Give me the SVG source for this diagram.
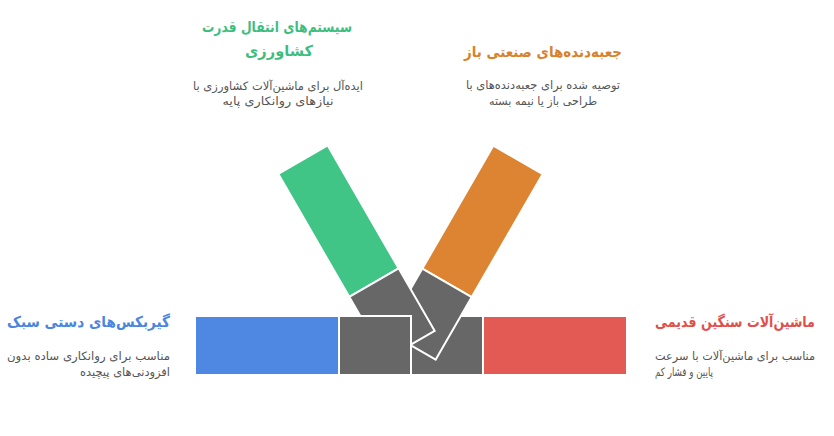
<svg xmlns="http://www.w3.org/2000/svg" width="834" height="436" viewBox="0 0 834 436">
<style>
text{font-family:"DejaVu Sans","Noto Sans",sans-serif;}
.t{font-size:15px;font-weight:bold;}
.b{font-size:11.5px;fill:#555555;}
.p{stroke:#ffffff;stroke-width:2;}
.gray{fill:#676767;}
</style>
<rect width="834" height="436" fill="#ffffff"/>
<g id="connectors">
<rect id="bar-gray-right" class="p gray" x="411" y="316" width="72" height="59"/>
</g>
<g id="node-orange">
<g transform="translate(493.3,145.7) rotate(30)">
<rect class="p" x="0" y="0" width="57" height="142" fill="#DC8431"/>
<rect class="p gray" x="0" y="142" width="57" height="72"/>
</g>
<text class="t" x="543" y="57" text-anchor="middle" fill="#D9822D" textLength="158" lengthAdjust="spacingAndGlyphs">جعبه‌دنده‌های صنعتی باز</text>
<text class="b" x="543" y="89" text-anchor="middle" textLength="154" lengthAdjust="spacingAndGlyphs">توصیه شده برای جعبه‌دنده‌های با</text>
<text class="b" x="543" y="105" text-anchor="middle" textLength="108" lengthAdjust="spacingAndGlyphs">طراحی باز یا نیمه بسته</text>
</g>
<g id="node-green">
<g transform="translate(278.3,174) rotate(-30)">
<rect class="p" x="0" y="0" width="57" height="142" fill="#40C586"/>
<rect class="p gray" x="0" y="142" width="57" height="72"/>
</g>
<text class="t" x="277" y="32" text-anchor="middle" fill="#3DBE80" textLength="150" lengthAdjust="spacingAndGlyphs">سیستم‌های انتقال قدرت</text>
<text class="t" x="279" y="56" text-anchor="middle" fill="#3DBE80" textLength="68" lengthAdjust="spacingAndGlyphs">کشاورزی</text>
<text class="b" x="278" y="90" text-anchor="middle" textLength="170" lengthAdjust="spacingAndGlyphs">ایده‌آل برای ماشین‌آلات کشاورزی با</text>
<text class="b" x="278" y="105" text-anchor="middle" textLength="111" lengthAdjust="spacingAndGlyphs">نیازهای روانکاری پایه</text>
</g>
<g id="node-blue">
<rect class="p" x="195" y="316" width="144" height="59" fill="#4E88E3"/>
<rect id="bar-gray-left" class="p gray" x="339" y="316" width="72" height="59"/>
<text class="t" x="170" y="327" text-anchor="end" fill="#4A86E0" textLength="163" lengthAdjust="spacingAndGlyphs">گیربکس‌های دستی سبک</text>
<text class="b" x="170" y="360" text-anchor="end" textLength="163" lengthAdjust="spacingAndGlyphs">مناسب برای روانکاری ساده بدون</text>
<text class="b" x="170" y="376" text-anchor="end" textLength="90" lengthAdjust="spacingAndGlyphs">افزودنی‌های پیچیده</text>
</g>
<g id="node-red">
<rect class="p" x="483" y="316" width="144" height="59" fill="#E35A55"/>
<text class="t" transform="translate(655,327) scale(0.86,1)" x="0" y="0" fill="#E0504B" textLength="186" lengthAdjust="spacingAndGlyphs">ماشین‌آلات سنگین قدیمی</text>
<text class="b" x="655" y="360" textLength="160" lengthAdjust="spacingAndGlyphs">مناسب برای ماشین‌آلات با سرعت</text>
<text class="b" x="655" y="376" textLength="58" lengthAdjust="spacingAndGlyphs">پایین و فشار کم</text>
</g>
</svg>
